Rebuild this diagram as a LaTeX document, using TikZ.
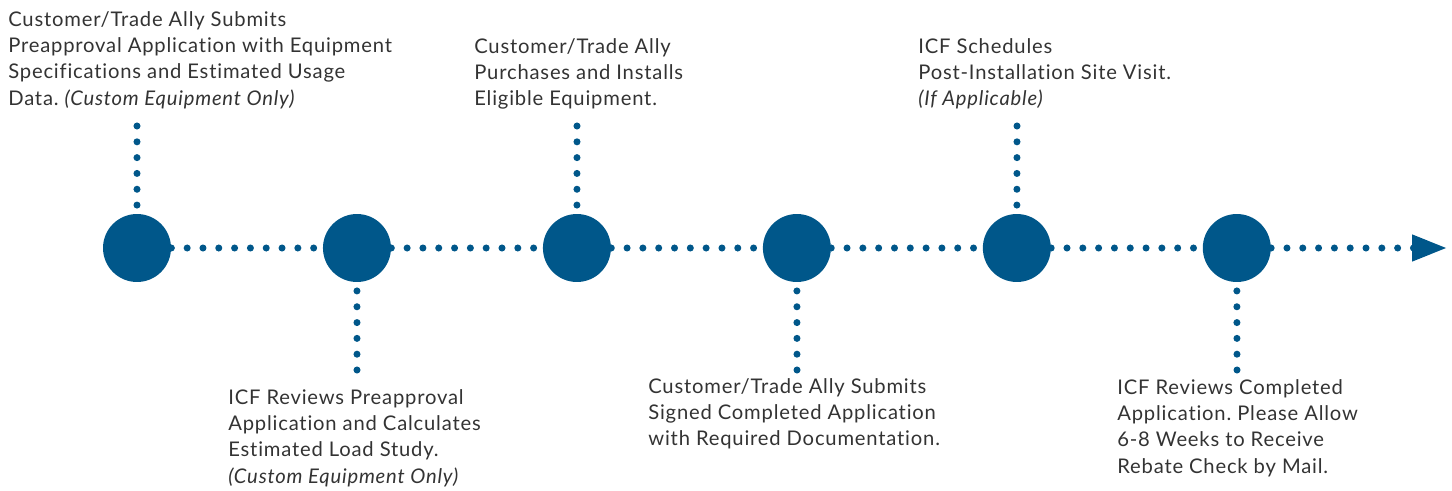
\documentclass[tikz,border=0pt]{standalone}
\usepackage{fontspec}
\setmainfont{Lato}[LetterSpace=4, Ligatures={NoCommon}]
\usepackage{xcolor}
\usepackage{tikz}
\usetikzlibrary{positioning,arrows.meta}
\frenchspacing

\definecolor{icfblue}{HTML}{00578A}
\definecolor{textgray}{HTML}{333333}

\tikzset{
  milestone/.style={circle, fill=icfblue, minimum size=1.36cm, inner sep=0pt},
  dotline/.style={icfblue, line width=4pt, line cap=round, dash pattern=on 0pt off 9pt},
  steptext/.style={align=left, anchor=north west, inner sep=0pt, text=textgray,
    font=\fontsize{11.5}{15}\selectfont},
}

\begin{document}
\begin{tikzpicture}[x=0.02cm, y=-0.02cm, node distance=4.4cm]
    \useasboundingbox (0,0) rectangle (1452,490);

    \node [milestone] (submit) at (137,248) {};
    \node [milestone, right of=submit] (review) {};
    \node [milestone, right of=review] (install) {};
    \node [milestone, right of=install] (complete) {};
    \node [milestone, right of=complete] (visit) {};
    \node [milestone, right of=visit] (rebate) {};

    \coordinate (submittop) at (137,126);
    \coordinate (reviewbot) at (357,370);
    \coordinate (installtop) at (577,126);
    \coordinate (completebot) at (797,370);
    \coordinate (visittop) at (1017,126);
    \coordinate (rebatebot) at (1237,370);
    \coordinate (arrowend) at (1447,248);

    \node [steptext] (submittext) at (8,11) {Customer/Trade Ally Submits\\Preapproval Application with Equipment\\Specifications and Estimated Usage\\Data. \textit{(Custom Equipment Only)}};
    \node [steptext] (reviewtext) at (228,389) {ICF Reviews Preapproval\\Application and Calculates\\Estimated Load Study.\\\textit{(Custom Equipment Only)}};
    \node [steptext] (installtext) at (474,38) {Customer/Trade Ally\\Purchases and Installs\\Eligible Equipment.};
    \node [steptext] (completetext) at (648,378) {Customer/Trade Ally Submits\\Signed Completed Application\\with Required Documentation.};
    \node [steptext] (visittext) at (918,38) {ICF Schedules\\Post-Installation Site Visit.\\\textit{(If Applicable)}};
    \node [steptext] (rebatetext) at (1117,379) {ICF Reviews Completed\\Application. Please Allow\\6-8 Weeks to Receive\\Rebate Check by Mail.};

    \draw [dotline] (submit) -- (review);
    \draw [dotline] (review) -- (install);
    \draw [dotline] (install) -- (complete);
    \draw [dotline] (complete) -- (visit);
    \draw [dotline] (visit) -- (rebate);
    \draw [dotline, -{Triangle[length=19.8pt, width=14.2pt]}] (rebate) -- (arrowend);

    \draw [dotline] (submittop) -- (submit);
    \draw [dotline] (reviewbot) -- (review);
    \draw [dotline] (installtop) -- (install);
    \draw [dotline] (completebot) -- (complete);
    \draw [dotline] (visittop) -- (visit);
    \draw [dotline] (rebatebot) -- (rebate);
\end{tikzpicture}
\end{document}
